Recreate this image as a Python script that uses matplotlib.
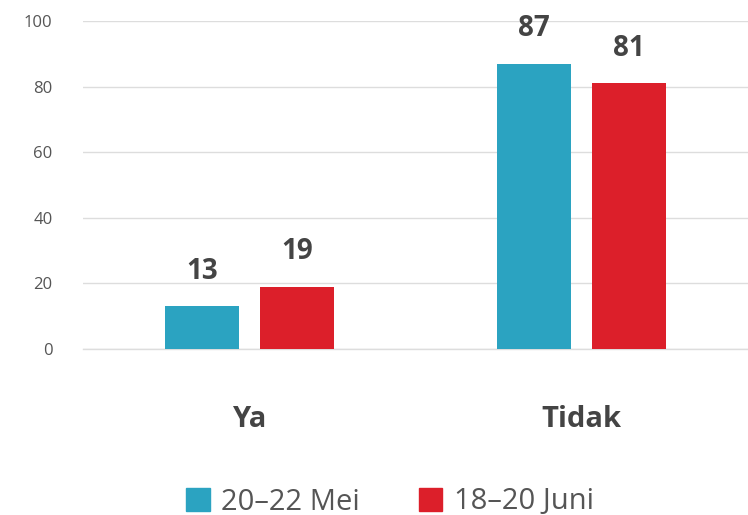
import numpy as np
import matplotlib.pyplot as plt
from matplotlib.patches import Patch

categories = ['Ya', 'Tidak']
series_names = ['20–22 Mei', '18–20 Juni']
mei = [13, 87]
juni = [19, 81]
colors = ['#2ba3c1', '#dc1f2a']

plt.rcParams['font.family'] = ['Open Sans', 'DejaVu Sans']

fig = plt.figure(figsize=(7.48, 5.15), dpi=100)
ax = fig.add_axes([83/748, 166/515, 665/748, 328/515])

x = np.arange(len(categories))
w = 0.222
off = 0.143
b1 = ax.bar(x - off, mei, w, color=colors[0], zorder=3)
b2 = ax.bar(x + off, juni, w, color=colors[1], zorder=3)

for bars, vals in [(b1, mei), (b2, juni)]:
    for r, v in zip(bars, vals):
        ax.text(r.get_x() + r.get_width()/2, v + 6.3, str(v), ha='center', va='bottom',
                fontsize=20, fontweight='bold', color='#444444')

ax.set_xlim(-0.5, 1.5)
ax.set_ylim(0, 100)
ax.set_yticks([0, 20, 40, 60, 80, 100])
ax.yaxis.grid(True, color='#dddddd', linewidth=1, zorder=0)
ax.axhline(0, color='#dddddd', linewidth=1, zorder=1, clip_on=False)
ax.set_xticks(x)
ax.set_xticklabels(categories, fontsize=21, fontweight='bold', color='#444444')
ax.tick_params(axis='x', length=0, pad=40)
ax.tick_params(axis='y', length=0, pad=22, labelsize=12, labelcolor='#555555')
for s in ax.spines.values():
    s.set_visible(False)

handles = [Patch(color=c) for c in colors]
fig.legend(handles, series_names, loc='center', bbox_to_anchor=(390/748, 1 - 502/515),
           ncol=2, frameon=False, fontsize=21, labelcolor='#555555',
           handlelength=0.8, handleheight=0.8, handletextpad=0.4, columnspacing=2.0)

fig.savefig('out.png', dpi=100)
